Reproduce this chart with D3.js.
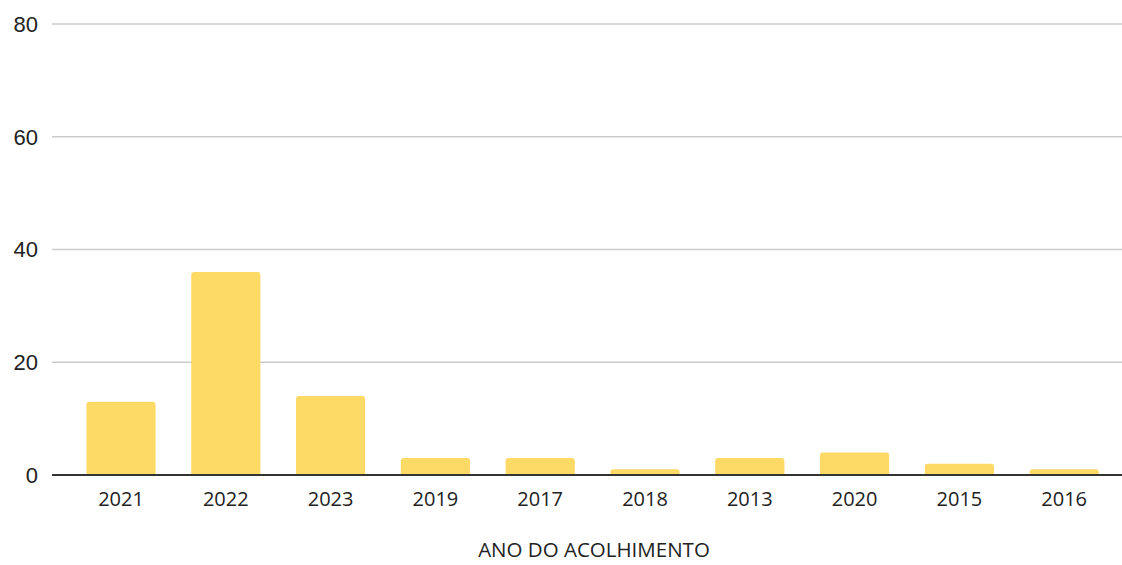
<html>
<head>
<style>
body { margin: 0; background: #fff; }
svg { display: block; }
</style>
<script src="https://d3js.org/d3.v7.min.js"></script>
</head>
<body>
<svg id="chart" width="1122" height="565"></svg>
<script>
// values
const years = ['2021', '2022', '2023', '2019', '2017', '2018', '2013', '2020', '2015', '2016'];
const counts = [13, 36, 14, 3, 3, 1, 3, 4, 2, 1];
const yTicks = [0, 20, 40, 60, 80];
const xTitle = 'ANO DO ACOLHIMENTO';

const svg = d3.select('#chart');

const x = d3.scaleBand().domain(years).range([68.6, 1116.6]).paddingInner(0.34).paddingOuter(0.17);
const y = d3.scaleLinear().domain([0, 80]).range([475, 24]);

// grid
svg.append('g')
  .selectAll('line')
  .data(yTicks.filter(d => d > 0))
  .enter().append('line')
  .attr('x1', 52).attr('x2', 1122)
  .attr('y1', d => y(d)).attr('y2', d => y(d))
  .attr('stroke', '#cccccc')
  .attr('stroke-width', 1.3);

// y labels
svg.append('g')
  .selectAll('text')
  .data(yTicks)
  .enter().append('text')
  .attr('x', 38)
  .attr('y', d => y(d))
  .attr('dy', '0.36em')
  .attr('text-anchor', 'end')
  .attr('font-family', 'Liberation Sans, Arial, sans-serif')
  .attr('font-size', 22)
  .attr('fill', '#222')
  .text(d => d);

// bars with rounded tops
const r = 3;
svg.append('g')
  .selectAll('path')
  .data(years.map((yr, i) => ({ yr: yr, v: counts[i] })))
  .enter().append('path')
  .attr('fill', '#fdd966')
  .attr('d', d => {
    const x0 = x(d.yr), w = x.bandwidth(), y0 = y(d.v), b = y(0);
    const rr = Math.min(r, (b - y0) / 2);
    return 'M' + x0 + ',' + b +
      'V' + (y0 + rr) +
      'Q' + x0 + ',' + y0 + ' ' + (x0 + rr) + ',' + y0 +
      'H' + (x0 + w - rr) +
      'Q' + (x0 + w) + ',' + y0 + ' ' + (x0 + w) + ',' + (y0 + rr) +
      'V' + b + 'Z';
  });

// baseline
svg.append('line')
  .attr('x1', 52).attr('x2', 1122)
  .attr('y1', y(0)).attr('y2', y(0))
  .attr('stroke', '#333')
  .attr('stroke-width', 2);

// x labels
svg.append('g')
  .selectAll('text')
  .data(years)
  .enter().append('text')
  .attr('x', d => x(d) + x.bandwidth() / 2)
  .attr('y', 506)
  .attr('text-anchor', 'middle')
  .attr('font-family', 'Open Sans, sans-serif')
  .attr('font-size', 20)
  .attr('fill', '#222')
  .text(d => d);

svg.append('text')
  .attr('x', 594)
  .attr('y', 557)
  .attr('text-anchor', 'middle')
  .attr('font-family', 'Open Sans, sans-serif')
  .attr('font-size', 20.5)
  .attr('fill', '#222')
  .text(xTitle);
</script>
</body>
</html>
